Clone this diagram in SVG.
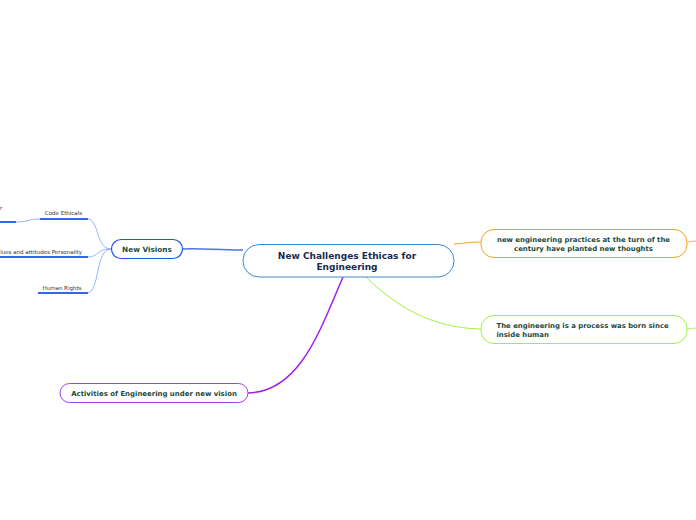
<svg xmlns="http://www.w3.org/2000/svg" width="696" height="520" viewBox="0 0 696 520">
<style>
.t{font-family:"DejaVu Sans",Verdana,sans-serif;font-weight:bold;fill:#1c4a3c}
.s{font-family:"DejaVu Sans",Verdana,sans-serif;font-size:5.5px;fill:#333}
.n{fill:#fff}
.c{fill:none}
</style>
<rect width="696" height="520" fill="#fff"/>
<g id="connectors">
<path class="c" d="M243,250 C215,250 200,248 182,249" stroke="#4a78e8" stroke-width="1.3"/>
<path class="c" d="M454,244 C468,243 470,242 481,242" stroke="#f5a020" stroke-width="1"/>
<path class="c" d="M366,277 C395,305 430,328 481,329" stroke="#a0f040" stroke-width="1"/>
<path class="c" d="M343,277 C320,330 300,392 248,393" stroke="#a020f0" stroke-width="1.5"/>
<path class="c" d="M687,242 L696,241" stroke="#f5a020" stroke-width="0.8"/>
<path class="c" d="M687,329 L696,328" stroke="#a0f040" stroke-width="0.8"/>
<path class="c" d="M111,249 C95,249 100,219 87,219" stroke="#80a0ff" stroke-width="0.8"/>
<path class="c" d="M111,249 C95,249 100,257 87,257" stroke="#80a0ff" stroke-width="0.8"/>
<path class="c" d="M111,249 C95,249 100,293 87,293" stroke="#80a0ff" stroke-width="0.8"/>
<path class="c" d="M40,219 C28,219 28,222 16,222" stroke="#80a0ff" stroke-width="0.8"/>
<line x1="40" y1="219" x2="88" y2="219" stroke="#3366ee" stroke-width="2"/>
<line x1="0" y1="222" x2="16" y2="222" stroke="#3366ee" stroke-width="2"/>
<line x1="0" y1="257" x2="88" y2="257" stroke="#3366ee" stroke-width="2"/>
<line x1="38" y1="293" x2="88" y2="293" stroke="#3366ee" stroke-width="2"/>
</g>
<g id="central">
<rect class="n" x="243" y="244.5" width="211" height="32.5" rx="16" stroke="#3a8ad0" stroke-width="1"/>
<text class="t" x="347" y="259" font-size="9" text-anchor="middle" style="fill:#1a2a50">New Challenges Ethicas for</text>
<text class="t" x="347" y="270" font-size="9" text-anchor="middle" style="fill:#1a2a50">Engineering</text>
</g>
<g id="new-visions">
<rect class="n" x="111.5" y="239.5" width="71" height="19" rx="9.5" stroke="#2255ee" stroke-width="1.2"/>
<text class="t" x="147" y="252" font-size="7.3" text-anchor="middle">New Visions</text>
</g>
<g id="code-ethicals">
<text class="s" x="63.5" y="215" text-anchor="middle">Code Ethicals</text>
</g>
<g id="cut-off">
<text class="s" x="0" y="210">r</text>
</g>
<g id="values">
<text class="s" x="82" y="254" text-anchor="end">Values and attitudes Personality</text>
</g>
<g id="human-rights">
<text class="s" x="62" y="290" text-anchor="middle">Human Rights</text>
</g>
<g id="new-practices">
<rect class="n" x="481" y="229.5" width="206" height="28" rx="13" stroke="#f5a020" stroke-width="1"/>
<text class="t" x="583.5" y="242" font-size="6.9" text-anchor="middle">new engineering practices at the turn of the</text>
<text class="t" x="583.5" y="250.5" font-size="6.9" text-anchor="middle">century have planted new thoughts</text>
</g>
<g id="process">
<rect class="n" x="481" y="315.5" width="206" height="28" rx="13" stroke="#a0f040" stroke-width="1"/>
<text class="t" x="496.5" y="328" font-size="6.9">The engineering is a process was born since</text>
<text class="t" x="496.5" y="336.5" font-size="6.9">inside human</text>
</g>
<g id="activities">
<rect class="n" x="60" y="383.5" width="188" height="19" rx="9.5" stroke="#a040f0" stroke-width="1"/>
<text class="t" x="154" y="396" font-size="6.95" text-anchor="middle">Activities of Engineering under new vision</text>
</g>
</svg>
